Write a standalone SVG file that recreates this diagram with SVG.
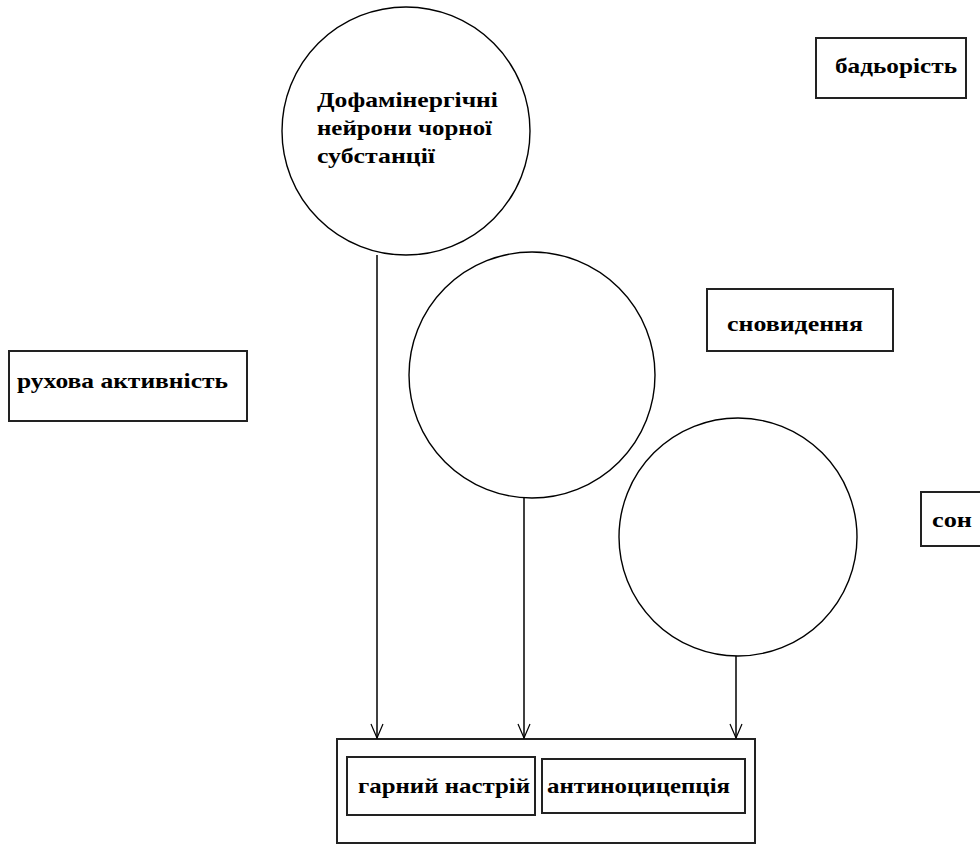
<svg xmlns="http://www.w3.org/2000/svg" width="980" height="844" viewBox="0 0 980 844">
<defs>
<style>
.c{fill:none;stroke:#000;stroke-width:1.4}
.b{fill:#fff;stroke:#222;stroke-width:2}
.t{font-family:"Liberation Serif","Times New Roman",serif;font-weight:bold;font-size:22px;fill:#000}
.l{stroke:#000;stroke-width:1.5;fill:none}
</style>
<marker id="ah" viewBox="0 0 16 14" refX="15" refY="7" markerWidth="16" markerHeight="14" markerUnits="userSpaceOnUse" orient="auto">
<path d="M1,1 L15,7 L1,13" fill="none" stroke="#000" stroke-width="1.2"/>
</marker>
</defs>
<rect width="980" height="844" fill="#fff"/>
<g id="n-dopamine">
<circle class="c" cx="406" cy="131" r="124"/>
<text class="t" x="317" y="107" textLength="181" lengthAdjust="spacingAndGlyphs">Дофамінергічні</text>
<text class="t" x="317" y="135" textLength="175" lengthAdjust="spacingAndGlyphs">нейрони чорної</text>
<text class="t" x="317" y="163" textLength="118" lengthAdjust="spacingAndGlyphs">субстанції</text>
</g>
<g id="n-circle2"><circle class="c" cx="532" cy="375" r="123"/></g>
<g id="n-circle3"><circle class="c" cx="738" cy="537" r="119"/></g>
<g id="n-vigor">
<rect class="b" x="816" y="38" width="150" height="60"/>
<text class="t" x="835" y="73" textLength="122" lengthAdjust="spacingAndGlyphs">бадьорість</text>
</g>
<g id="n-motor">
<rect class="b" x="9" y="351" width="238" height="70"/>
<text class="t" x="17" y="388" textLength="211" lengthAdjust="spacingAndGlyphs">рухова активність</text>
</g>
<g id="n-dreams">
<rect class="b" x="707" y="289" width="186" height="62"/>
<text class="t" x="727" y="331" textLength="136" lengthAdjust="spacingAndGlyphs">сновидення</text>
</g>
<g id="n-sleep">
<rect class="b" x="921" y="492" width="70" height="54"/>
<text class="t" x="932" y="527" textLength="40" lengthAdjust="spacingAndGlyphs">сон</text>
</g>
<g id="n-effects">
<rect class="b" x="337" y="739" width="418" height="104"/>
</g>
<g id="n-mood">
<rect class="b" x="347" y="757" width="188" height="58"/>
<text class="t" x="358" y="793" textLength="172" lengthAdjust="spacingAndGlyphs">гарний настрій</text>
</g>
<g id="n-antinoc">
<rect class="b" x="542" y="759" width="203" height="54"/>
<text class="t" x="547" y="793" textLength="183" lengthAdjust="spacingAndGlyphs">антиноцицепція</text>
</g>
<g id="connectors">
<line class="l" x1="377" y1="255" x2="377" y2="738" marker-end="url(#ah)"/>
<line class="l" x1="524" y1="498" x2="524" y2="738" marker-end="url(#ah)"/>
<line class="l" x1="736" y1="656" x2="736" y2="738" marker-end="url(#ah)"/>
</g>
</svg>
